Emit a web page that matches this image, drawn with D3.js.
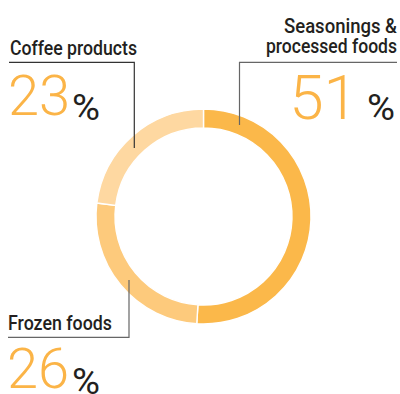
<!DOCTYPE html>
<html>
<head>
<meta charset="utf-8">
<script src="https://cdn.jsdelivr.net/npm/d3@7"></script>
<style>
  html, body { margin: 0; padding: 0; background: #fff; }
  svg { display: block; }
</style>
</head>
<body>
<svg id="chart" width="400" height="394"></svg>
<script>
// Sales composition by segment
const categories = ["Seasonings & processed foods", "Frozen foods", "Coffee products"];
const shares = [51, 26, 23];
const colors = ["#FBB84A", "#FDCA7C", "#FED8A1"];

const W = 400, H = 394;
const cx = 203.5, cy = 216.5;
const outerR = 107.5, innerR = 88.5;

const svg = d3.select("#chart");

const pie = d3.pie().sort(null).value(d => d)(shares);
const arc = d3.arc().innerRadius(innerR).outerRadius(outerR);

svg.append("g")
  .attr("transform", `translate(${cx},${cy})`)
  .selectAll("path")
  .data(pie)
  .join("path")
  .attr("d", arc)
  .attr("fill", (d, i) => colors[i])
  .attr("stroke", "#fff")
  .attr("stroke-width", 1.4);

const labelFont = "Roboto, 'Liberation Sans', Arial, sans-serif";
const numFont = "Roboto, 'Open Sans', sans-serif";
const ink = "#231F20";
const orange = "#FBB447";

// leader lines
const line = d3.line();
const leaders = [
  { pts: [[397, 62.3], [239.5, 62.3], [239.5, 125]], color: "#666" },
  { pts: [[9, 62.3], [134.3, 62.3], [134.3, 148]], color: "#333" },
  { pts: [[8, 337.3], [129, 337.3], [129, 280]], color: "#666" }
];
svg.selectAll("path.leader")
  .data(leaders)
  .join("path")
  .attr("class", "leader")
  .attr("d", d => line(d.pts))
  .attr("fill", "none")
  .attr("stroke", d => d.color)
  .attr("stroke-width", 1.2);

function label(x, y, text, anchor, width) {
  return svg.append("text")
    .attr("x", x).attr("y", y)
    .attr("text-anchor", anchor)
    .attr("font-family", labelFont)
    .attr("font-size", 20.5)
    .attr("font-weight", 500)
    .attr("fill", ink)
    .attr("textLength", width)
    .attr("lengthAdjust", "spacingAndGlyphs")
    .text(text);
}
function number(x, y, value, size, anchor) {
  return svg.append("text")
    .attr("x", x).attr("y", y)
    .attr("text-anchor", anchor)
    .attr("font-family", numFont)
    .attr("font-weight", 300)
    .attr("font-size", size)
    .attr("fill", orange)
    .text(value);
}
function pct(x, y, size) {
  return svg.append("text")
    .attr("x", x).attr("y", y)
    .attr("font-family", labelFont)
    .attr("font-weight", 400)
    .attr("font-size", size)
    .attr("fill", ink)
    .attr("textLength", 28)
    .attr("lengthAdjust", "spacingAndGlyphs")
    .text("%");
}

// Seasonings & processed foods
label(397, 33, "Seasonings &", "end", 113);
label(397, 53, "processed foods", "end", 131);
number(358, 119, shares[0], 62, "end");
pct(367, 120, 37);

// Coffee products
label(10, 55, categories[2], "start", 127);
number(8, 115, shares[2], 56, "start");
pct(72, 120, 37);

// Frozen foods
label(8, 330, categories[1], "start", 104);
number(7, 387.5, shares[1], 56, "start");
pct(72, 394, 37);
</script>
</body>
</html>
